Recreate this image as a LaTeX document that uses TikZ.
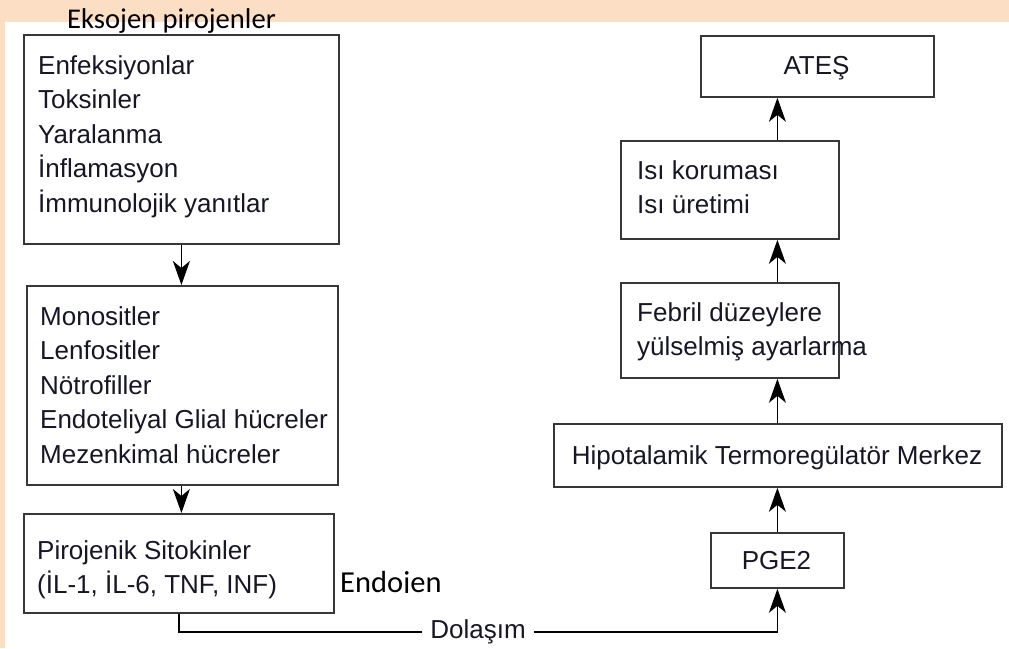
\documentclass[tikz,border=0pt]{standalone}
\usepackage{fontspec}
\setmainfont{Liberation Sans}
\newfontfamily\calibrifont{Carlito}
\usetikzlibrary{arrows.meta}
\definecolor{peach}{RGB}{252,222,196}
\definecolor{edge}{RGB}{55,55,55}
\definecolor{ink}{RGB}{22,22,38}

\begin{document}
\begin{tikzpicture}[x=1pt,y=-1pt,
  box/.style={draw=edge, line width=1.8pt, inner sep=0pt, anchor=north west},
  lbl/.style={font=\fontsize{26}{34.5}\selectfont, text=ink, inner sep=0pt, align=left},
  note/.style={font=\calibrifont\fontsize{28.6}{34}\selectfont, inner sep=0pt},
  flow/.style={line width=1.5pt, -{Stealth[length=24pt,width=17pt,inset=7pt]}},
  wire/.style={line width=1.5pt}]

\useasboundingbox (0,0) rectangle (1009,648);
% page background with the coloured header band and left margin strip
\fill[white] (0,0) rectangle (1009,648);
\fill[peach] (0,0) rectangle (1009,22);
\fill[peach] (0,0) rectangle (5,648);

% left column (multi-line labels are anchored at the baseline of their last line)
\node[note, anchor=base west] (exoh) at (67,28) {Eksojen pirojenler};
\node[box, minimum width=315pt, minimum height=209pt] (exo) at (23,34) {};
\node[lbl, anchor=base west] (exot) at (38,212)
  {Enfeksiyonlar\\Toksinler\\Yaralanma\\İnflamasyon\\İmmunolojik yanıtlar};

\node[box, minimum width=311pt, minimum height=199pt] (cell) at (26,285) {};
\node[lbl, anchor=base west] (cellt) at (40,463)
  {Monositler\\Lenfositler\\Nötrofiller\\Endoteliyal Glial hücreler\\Mezenkimal hücreler};

\node[box, minimum width=310pt, minimum height=99pt] (cyto) at (23,513) {};
\node[lbl, anchor=base west] (cytot) at (37,593.5)
  {Pirojenik Sitokinler\\(İL-1, İL-6, TNF, INF)};

% side label, cut off along its baseline
\begin{scope}
  \clip (335,540) rectangle (540,592);
  \node[note, font=\calibrifont\fontsize{30.5}{34}\selectfont, anchor=base west] (endo)
    at (340,592.5) {Endojen};
\end{scope}

% right column
\node[box, minimum width=233pt, minimum height=61pt] (fever) at (700,35) {};
\node[lbl, anchor=base] (fevert) at (816.5,74) {ATEŞ};

\node[box, minimum width=218pt, minimum height=98pt] (heat) at (620,140) {};
\node[lbl, anchor=base west] (heatt) at (637,213.5) {Isı koruması\\Isı üretimi};

\node[box, minimum width=218pt, minimum height=95pt] (set) at (620,282) {};
\node[lbl, anchor=base west] (sett) at (637,355.5) {Febril düzeylere\\yülselmiş ayarlarma};

\node[box, minimum width=448pt, minimum height=63pt] (hypo) at (553,423) {};
\node[lbl, anchor=base] (hypot) at (777,464) {Hipotalamik Termoregülatör Merkez};

\node[box, minimum width=133pt, minimum height=55pt] (pge) at (710,532) {};
\node[lbl, anchor=base] (pget) at (776.5,569) {PGE2};

% circulation label on the bus line
\node[lbl, anchor=base, inner xsep=8pt] (circ) at (478,638) {Dolaşım};

% connectors
\draw[flow] (exo.south) -- (exo.south |- cell.north);
\draw[flow] (cell.south -| exo.south) -- (exo.south |- cyto.north);
\draw[wire] (cyto.south) -- ++(0,18) coordinate (bus) -- (bus -| circ.west);
\draw[flow] (circ.east |- bus) -| (pge.south);
\draw[flow] (pge.north) -- (pge.north |- hypo.south);
\draw[flow] (hypo.north -| pge.north) -- (pge.north |- set.south);
\draw[flow] (set.north -| pge.north) -- (pge.north |- heat.south);
\draw[flow] (heat.north -| pge.north) -- (pge.north |- fever.south);
\end{tikzpicture}
\end{document}
